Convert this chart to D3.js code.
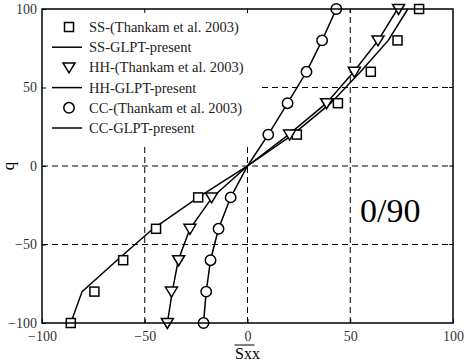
<!DOCTYPE html>
<html>
<head>
<meta charset="utf-8">
<script src="https://cdn.jsdelivr.net/npm/d3@7"></script>
<style>
  body { margin: 0; background: #fff; }
  text { font-family: "Liberation Serif", "DejaVu Serif", serif; }
</style>
</head>
<body>
<script>
'use strict';

// q levels (through-thickness)
const qExp = [-100, -80, -60, -40, -20, 20, 40, 60, 80, 100];
const qFit = [-100, -80, -60, -40, -20, 0, 20, 40, 60, 80, 100];

// Thankam et al. 2003
const ssExp = [-86, -74.5, -60.5, -44.5, -24, 24, 44, 60, 73, 83.5];
const hhExp = [-39, -37, -33.5, -28, -17.5, 20.5, 38.5, 52, 63.5, 73.5];
const ccExp = [-21.4, -20.1, -18, -14.1, -8.2, 10.1, 19.5, 28.7, 36.3, 43.2];

// GLPT present
const ssFit = [-86, -80.5, -63.5, -46, -24, 0, 22, 40.5, 55, 68.5, 78];
const hhFit = [-39, -36.6, -33.7, -28, -17.2, 0, 20, 38.4, 51.7, 63.6, 73];
const ccFit = [-21.4, -20.1, -18, -14.1, -8.2, 0, 10.1, 19.5, 28.7, 36.3, 43.2];

const xTicks = [-100, -50, 0, 50, 100];
const yTicks = [-100, -50, 0, 50, 100];

const legendItems = [
  { label: 'SS-(Thankam et al. 2003)', kind: 'square' },
  { label: 'SS-GLPT-present', kind: 'line' },
  { label: 'HH-(Thankam et al. 2003)', kind: 'triangle' },
  { label: 'HH-GLPT-present', kind: 'line' },
  { label: 'CC-(Thankam et al. 2003)', kind: 'circle' },
  { label: 'CC-GLPT-present', kind: 'line' }
];

const svg = d3.select('body').append('svg')
  .attr('width', 464)
  .attr('height', 364);

const x = d3.scaleLinear().domain([-100, 100]).range([42, 453]);
const y = d3.scaleLinear().domain([-100, 100]).range([323, 9]);

// dashed grid at the inner ticks
svg.append('g').selectAll('line')
  .data(xTicks.slice(1, -1))
  .enter().append('line')
    .attr('x1', d => x(d)).attr('x2', d => x(d))
    .attr('y1', y(-100)).attr('y2', y(100))
    .attr('stroke', '#000').attr('stroke-width', 1)
    .attr('stroke-dasharray', '6,4');
svg.append('g').selectAll('line')
  .data(yTicks.slice(1, -1))
  .enter().append('line')
    .attr('x1', x(-100)).attr('x2', x(100))
    .attr('y1', d => y(d)).attr('y2', d => y(d))
    .attr('stroke', '#000').attr('stroke-width', 1)
    .attr('stroke-dasharray', '6,4');

// legend background hides grid
svg.append('rect')
  .attr('x', x(-100) + 1).attr('y', y(100) + 1)
  .attr('width', 219).attr('height', 133)
  .attr('fill', '#fff');

// fit lines
const line = d3.line();
function drawFit(vals) {
  svg.append('path')
    .attr('d', line(vals.map((v, i) => [x(v), y(qFit[i])])))
    .attr('fill', 'none')
    .attr('stroke', '#000')
    .attr('stroke-width', 1.5);
}
drawFit(ssFit);
drawFit(hhFit);
drawFit(ccFit);

// markers
function marker(g, kind, cx, cy) {
  if (kind === 'square') {
    g.append('rect')
      .attr('x', cx - 4.5).attr('y', cy - 4.5)
      .attr('width', 9).attr('height', 9);
  } else if (kind === 'triangle') {
    g.append('path')
      .attr('d', `M${cx - 6},${cy - 4.5}L${cx + 6},${cy - 4.5}L${cx},${cy + 5.5}Z`);
  } else if (kind === 'circle') {
    g.append('circle').attr('cx', cx).attr('cy', cy).attr('r', 5.2);
  }
}
function drawExp(vals, kind) {
  const g = svg.append('g')
    .attr('fill', '#fff').attr('stroke', '#000').attr('stroke-width', 1.5);
  vals.forEach((v, i) => marker(g, kind, x(v), y(qExp[i])));
}
drawExp(ssExp, 'square');
drawExp(hhExp, 'triangle');
drawExp(ccExp, 'circle');

// frame
svg.append('rect')
  .attr('x', x(-100)).attr('y', y(100))
  .attr('width', x(100) - x(-100)).attr('height', y(-100) - y(100))
  .attr('fill', 'none').attr('stroke', '#000').attr('stroke-width', 1.5);

// axes, ticks inward
const xAxis = d3.axisBottom(x).tickValues(xTicks).tickSizeInner(-4).tickSizeOuter(0).tickPadding(8);
const gx = svg.append('g').attr('transform', `translate(0,${y(-100)})`).call(xAxis);
const yAxis = d3.axisLeft(y).tickValues(yTicks).tickSizeInner(-4).tickSizeOuter(0).tickPadding(5);
const gy = svg.append('g').attr('transform', `translate(${x(-100)},0)`).call(yAxis);
[gx, gy].forEach(g => {
  g.select('.domain').remove();
  g.selectAll('text')
    .style('font-family', '"Liberation Serif", serif')
    .style('font-size', '14px')
    .attr('fill', '#333');
});
// top/right ticks
svg.append('g').selectAll('line').data(xTicks.slice(1, -1)).enter().append('line')
  .attr('x1', d => x(d)).attr('x2', d => x(d))
  .attr('y1', y(100)).attr('y2', y(100) + 4).attr('stroke', '#000');
svg.append('g').selectAll('line').data(yTicks.slice(1, -1)).enter().append('line')
  .attr('x1', x(100)).attr('x2', x(100) - 4)
  .attr('y1', d => y(d)).attr('y2', d => y(d)).attr('stroke', '#000');

// legend
const lg = svg.append('g');
legendItems.forEach((d, i) => {
  const ly = 27 + i * 20.2;
  if (d.kind === 'line') {
    lg.append('line')
      .attr('x1', 52).attr('x2', 82).attr('y1', ly).attr('y2', ly)
      .attr('stroke', '#000').attr('stroke-width', 1.5);
  } else {
    const g = lg.append('g').attr('fill', '#fff').attr('stroke', '#000').attr('stroke-width', 1.5);
    marker(g, d.kind, 69, ly);
  }
  lg.append('text')
    .attr('x', 89).attr('y', ly + 5)
    .style('font-size', '14.5px')
    .attr('fill', '#222')
    .text(d.label);
});

// annotation
svg.append('text')
  .attr('x', 360).attr('y', 222)
  .style('font-size', '34px')
  .text('0/90');

// axis titles
svg.append('text')
  .attr('transform', `translate(14,${y(0)})rotate(-90)`)
  .attr('text-anchor', 'middle')
  .style('font-size', '17px')
  .text('q');
svg.append('text')
  .attr('x', x(0)).attr('y', 359)
  .attr('text-anchor', 'middle')
  .style('font-size', '16px')
  .text('Sxx');
svg.append('line')
  .attr('x1', x(0) - 13).attr('x2', x(0) + 7)
  .attr('y1', 345).attr('y2', 345)
  .attr('stroke', '#000').attr('stroke-width', 1);
</script>
</body>
</html>
